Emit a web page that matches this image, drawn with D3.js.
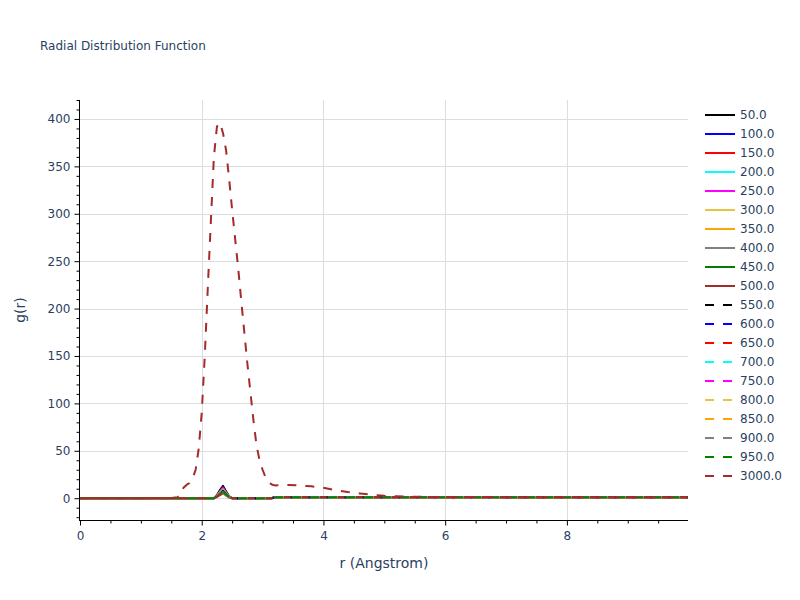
<!DOCTYPE html>
<html>
<head>
<meta charset="utf-8">
<script src="https://cdn.jsdelivr.net/npm/d3@7"></script>
<style>
  body { margin: 0; background: #fff; }
  svg { display: block; }
  text { font-family: "DejaVu Sans", Verdana, sans-serif; }
</style>
</head>
<body>
<svg id="chart" width="800" height="600"></svg>
<script>
// ---------- DATA ----------
const r = [0, 0.5, 1.0, 1.5, 1.6, 1.65, 1.7, 1.75, 1.8, 1.85, 1.9, 1.95, 2.0, 2.05, 2.1, 2.15,
  2.2, 2.25, 2.3, 2.35, 2.4, 2.45, 2.5, 2.55, 2.6, 2.65, 2.7, 2.75, 2.8, 2.85, 2.9, 2.95,
  3.0, 3.05, 3.1, 3.15, 3.2, 3.4, 3.6, 3.8, 4.0, 4.2, 4.4, 4.6, 4.8, 5.0, 5.2, 5.4, 5.6,
  6.0, 6.5, 7.0, 7.5, 8.0, 8.5, 9.0, 9.5, 9.99];

const seriesNames = ["50.0","100.0","150.0","200.0","250.0","300.0","350.0","400.0","450.0","500.0",
  "550.0","600.0","650.0","700.0","750.0","800.0","850.0","900.0","950.0","3000.0"];

const seriesColors = ["black","blue","red","cyan","magenta","#e8c440","orange","gray","green","brown",
  "black","blue","red","cyan","magenta","#e8c440","orange","gray","green","brown"];

const seriesDash = ["solid","solid","solid","solid","solid","solid","solid","solid","solid","solid",
  "dash","dash","dash","dash","dash","dash","dash","dash","dash","dash"];

const g50  = [0,0,0,0,0,0,0,0,0,0,0,0,0,0,0,0,0, 3.2,8.5,13,7.2,2.0, 0,0,0,0,0,0,0,0,0,0,0,0,0,0, 1.1,1.2,1.1,1.0,1.0,1.0,0.9,1.0,1.1,1.0,1.0,1.0,1.0,1.0,1.0,1.0,1.0,1.0,1.0,1.0,1.0,1.0];
const g100 = [0,0,0,0,0,0,0,0,0,0,0,0,0,0,0,0,0, 3.0,7.8,12,6.6,1.8, 0,0,0,0,0,0,0,0,0,0,0,0,0,0, 1.1,1.2,1.1,1.0,1.0,1.0,1.0,1.0,1.1,1.0,1.0,1.0,1.0,1.0,1.0,1.0,1.0,1.0,1.0,1.0,1.0,1.0];
const g150 = [0,0,0,0,0,0,0,0,0,0,0,0,0,0,0,0,0, 2.8,7.2,11,6.0,1.7, 0,0,0,0,0,0,0,0,0,0,0,0,0,0, 1.1,1.1,1.1,1.0,1.0,1.0,1.0,1.0,1.0,1.0,1.0,1.0,1.0,1.0,1.0,1.0,1.0,1.0,1.0,1.0,1.0,1.0];
const g200 = [0,0,0,0,0,0,0,0,0,0,0,0,0,0,0,0,0, 2.5,6.5,10,5.5,1.5, 0,0,0,0,0,0,0,0,0,0,0,0,0,0, 1.0,1.1,1.1,1.0,1.0,1.0,1.0,1.1,1.0,1.0,1.0,1.0,1.0,1.0,1.0,1.0,1.0,1.0,1.0,1.0,1.0,1.0];
const g250 = [0,0,0,0,0,0,0,0,0,0,0,0,0,0,0,0,0, 2.4,6.2,9.5,5.2,1.4, 0,0,0,0,0,0,0,0,0,0,0,0,0,0, 1.0,1.1,1.1,1.0,1.0,1.0,1.1,1.2,1.2,1.1,1.0,1.0,1.0,1.0,1.0,1.0,1.0,1.0,1.0,1.0,1.0,1.0];
const g300 = [0,0,0,0,0,0,0,0,0,0,0,0,0,0,0,0,0, 2.2,5.8,9,5.0,1.4, 0,0,0,0,0,0,0,0,0,0,0,0,0,0, 1.0,1.1,1.0,1.0,1.0,1.0,1.0,1.0,1.0,1.0,1.0,1.0,1.0,1.0,1.0,1.0,1.0,1.0,1.0,1.0,1.0,1.0];
const g350 = [0,0,0,0,0,0,0,0,0,0,0,0,0,0,0,0,0, 2.1,5.5,8.5,4.7,1.3, 0,0,0,0,0,0,0,0,0,0,0,0,0,0, 1.0,1.1,1.0,1.0,1.0,1.0,1.0,1.0,1.0,1.0,1.0,1.0,1.0,1.0,1.0,1.0,1.0,1.0,1.0,1.0,1.0,1.0];
const g400 = [0,0,0,0,0,0,0,0,0,0,0,0,0,0,0,0,0, 2.0,5.2,8,4.4,1.2, 0,0,0,0,0,0,0,0,0,0,0,0,0,0, 1.0,1.1,1.0,1.0,1.0,1.0,1.0,1.0,1.0,1.0,1.0,1.0,1.0,1.0,1.0,1.0,1.0,1.0,1.0,1.0,1.0,1.0];
const g450 = [0,0,0,0,0,0,0,0,0,0,0,0,0,0,0,0,0, 1.8,4.6,7,3.9,1.1, 0,0,0,0,0,0,0,0,0,0,0,0,0,0, 1.0,1.0,1.0,1.0,1.0,1.0,1.0,1.0,1.0,1.0,1.0,1.0,1.0,1.0,1.0,1.0,1.0,1.0,1.0,1.0,1.0,1.0];
const g500 = [0,0,0,0,0,0,0,0,0,0,0,0,0,0,0,0,0, 1.3,3.3,5,2.8,0.8, 0,0,0,0,0,0,0,0,0,0,0,0,0,0, 1.0,1.0,1.0,1.0,1.0,1.0,1.0,1.0,1.0,1.0,1.0,1.0,1.0,1.0,1.0,1.0,1.0,1.0,1.0,1.0,1.0,1.0];
const g550 = [0,0,0,0,0,0,0,0,0,0,0,0,0,0,0,0,0, 1.9,4.9,7.5,4.1,1.1, 0,0,0,0,0,0,0,0,0,0,0,0,0,0, 1.0,1.1,1.0,1.0,1.0,1.0,1.0,1.0,1.0,1.0,1.0,1.0,1.0,1.0,1.0,1.0,1.0,1.0,1.0,1.0,1.0,1.0];
const g600 = [0,0,0,0,0,0,0,0,0,0,0,0,0,0,0,0,0, 1.8,4.6,7,3.9,1.1, 0,0,0,0,0,0,0,0,0,0,0,0,0,0, 1.0,1.1,1.0,1.0,1.0,1.0,1.0,1.0,1.0,1.0,1.0,1.0,1.0,1.0,1.0,1.0,1.0,1.0,1.0,1.0,1.0,1.0];
const g650 = [0,0,0,0,0,0,0,0,0,0,0,0,0,0,0,0,0, 1.6,4.2,6.5,3.6,1.0, 0,0,0,0,0,0,0,0,0,0,0,0,0,0, 1.0,1.0,1.0,1.0,1.0,1.0,1.0,1.0,1.0,1.0,1.0,1.0,1.0,1.0,1.0,1.0,1.0,1.0,1.0,1.0,1.0,1.0];
const g700 = [0,0,0,0,0,0,0,0,0,0,0,0,0,0,0,0,0, 1.6,4.2,6.5,3.6,1.0, 0,0,0,0,0,0,0,0,0,0,0,0,0,0, 1.0,1.0,1.0,1.0,1.0,1.0,1.0,1.0,1.0,1.0,1.0,1.0,1.0,1.0,1.0,1.0,1.0,1.0,1.0,1.0,1.0,1.0];
const g750 = [0,0,0,0,0,0,0,0,0,0,0,0,0,0,0,0,0, 1.5,3.9,6,3.3,0.9, 0,0,0,0,0,0,0,0,0,0,0,0,0,0, 1.0,1.0,1.0,1.0,1.0,1.0,1.1,1.2,1.2,1.1,1.0,1.0,1.0,1.0,1.0,1.0,1.0,1.0,1.0,1.0,1.0,1.0];
const g800 = [0,0,0,0,0,0,0,0,0,0,0,0,0,0,0,0,0, 1.5,3.9,6,3.3,0.9, 0,0,0,0,0,0,0,0,0,0,0,0,0,0, 1.0,1.0,1.0,1.0,1.0,1.0,1.0,1.0,1.0,1.0,1.0,1.0,1.0,1.0,1.0,1.0,1.0,1.0,1.0,1.0,1.0,1.0];
const g850 = [0,0,0,0,0,0,0,0,0,0,0,0,0,0,0,0,0, 1.4,3.6,5.5,3.0,0.8, 0,0,0,0,0,0,0,0,0,0,0,0,0,0, 1.0,1.0,1.0,1.0,1.0,1.0,1.0,1.0,1.0,1.0,1.0,1.0,1.0,1.0,1.0,1.0,1.0,1.0,1.0,1.0,1.0,1.0];
const g900 = [0,0,0,0,0,0,0,0,0,0,0,0,0,0,0,0,0, 1.4,3.6,5.5,3.0,0.8, 0,0,0,0,0,0,0,0,0,0,0,0,0,0, 1.0,1.0,1.0,1.0,1.0,1.0,1.0,1.0,1.0,1.0,1.0,1.0,1.0,1.0,1.0,1.0,1.0,1.0,1.0,1.0,1.0,1.0];
const g950 = [0,0,0,0,0,0,0,0,0,0,0,0,0,0,0,0,0, 1.7,4.4,6.5,4.0,1.5, 0,0,0,0,0,0,0,0,0,0,0,0,0,0, 1.0,1.0,1.0,1.0,1.0,1.0,1.0,1.0,1.0,1.0,1.0,1.0,1.0,1.0,1.0,1.0,1.0,1.0,1.0,1.0,1.0,1.0];
const g3000 = [0,0,0,0.3,1,3,11,14,16,21,30,52,90,150,222,292,
  360,392,396,385,367,337,304,273,242,208,175,142,112,82,56,40,
  30,22,17,14.5,13.5,14,13.5,12.5,11,8.5,6.5,5,3.5,2.5,2,1.6,1.4,
  1.3,1.2,1.1,1.0,1.0,1.0,1.0,1.0,1.0];

const seriesValues = [g50,g100,g150,g200,g250,g300,g350,g400,g450,g500,
  g550,g600,g650,g700,g750,g800,g850,g900,g950,g3000];

const xTicks = [0, 2, 4, 6, 8];
const yTicks = [0, 50, 100, 150, 200, 250, 300, 350, 400];

// ---------- LAYOUT ----------
const svg = d3.select("#chart");
const L = 80, R = 688, T = 100, B = 520;
const textColor = "#2a3f5f";

const x = d3.scaleLinear().domain([0, 9.99]).range([L, R]);
const y = d3.scaleLinear().domain([-23, 420]).range([B, T]);

svg.append("rect").attr("width", 800).attr("height", 600).attr("fill", "#fff");

// grid
const grid = svg.append("g");
grid.selectAll("line.gy").data(yTicks).join("line")
  .attr("x1", L).attr("x2", R)
  .attr("y1", d => Math.round(y(d)) + 0.5).attr("y2", d => Math.round(y(d)) + 0.5)
  .attr("stroke", "#dddddd").attr("stroke-width", 1);
grid.selectAll("line.gx").data(xTicks.filter(d => d > 0)).join("line")
  .attr("x1", d => Math.round(x(d)) + 0.5).attr("x2", d => Math.round(x(d)) + 0.5)
  .attr("y1", T).attr("y2", B)
  .attr("stroke", "#dddddd").attr("stroke-width", 1);

// clip
svg.append("defs").append("clipPath").attr("id", "clip")
  .append("rect").attr("x", L).attr("y", T).attr("width", R - L).attr("height", B - T);

const line = d3.line().x(d => x(d[0])).y(d => y(d[1]));
const lines = svg.append("g").attr("clip-path", "url(#clip)");
seriesValues.forEach((vals, i) => {
  lines.append("path")
    .datum(r.map((rv, j) => [rv, vals[j]]))
    .attr("d", line)
    .attr("fill", "none")
    .attr("stroke", seriesColors[i])
    .attr("stroke-width", 2)
    .attr("stroke-linejoin", "round")
    .attr("stroke-dasharray", seriesDash[i] === "dash" ? "9,9" : null);
});

// axes
const yMinor = d3.range(-20, 421, 10).filter(v => v % 50 !== 0);
const xMinor = d3.range(0.5, 9.99, 0.5).filter(v => v % 2 !== 0);

const yAxisG = svg.append("g").attr("transform", `translate(${L - 0.5},0)`);
yAxisG.call(d3.axisLeft(y).tickValues(yMinor).tickSize(3).tickSizeOuter(0).tickFormat(""));
yAxisG.append("g").call(d3.axisLeft(y).tickValues(yTicks).tickSize(5).tickSizeOuter(0).tickPadding(4));
yAxisG.selectAll("path.domain").attr("stroke", "#000").attr("d", `M0,${T}V${B + 1}`);
yAxisG.selectAll(".tick line").attr("stroke", "#000");
yAxisG.selectAll("text").attr("fill", textColor).style("font-size", "12px")
  .style("font-family", "'DejaVu Sans', Verdana, sans-serif");

const xAxisG = svg.append("g").attr("transform", `translate(0,${B + 0.5})`);
xAxisG.call(d3.axisBottom(x).tickValues(xMinor).tickSize(3).tickSizeOuter(0).tickFormat(""));
xAxisG.append("g").call(d3.axisBottom(x).tickValues(xTicks).tickSize(5).tickSizeOuter(0).tickPadding(6));
xAxisG.selectAll("path.domain").attr("stroke", "#000").attr("d", `M${L - 1},0H${R}`);
xAxisG.selectAll(".tick line").attr("stroke", "#000");
xAxisG.selectAll("text").attr("fill", textColor).style("font-size", "12px")
  .style("font-family", "'DejaVu Sans', Verdana, sans-serif");

// titles
svg.append("text").attr("x", 40).attr("y", 50)
  .attr("fill", textColor).style("font-size", "12px")
  .text("Radial Distribution Function");

svg.append("text").attr("x", (L + R) / 2).attr("y", 568)
  .attr("text-anchor", "middle").attr("fill", textColor).style("font-size", "14px")
  .text("r (Angstrom)");

svg.append("text")
  .attr("transform", `translate(25,${(T + B) / 2}) rotate(-90)`)
  .attr("text-anchor", "middle").attr("fill", textColor).style("font-size", "14px")
  .text("g(r)");

// legend
const leg = svg.append("g").attr("transform", "translate(705,115)");
seriesNames.forEach((name, i) => {
  const gi = leg.append("g").attr("transform", `translate(0,${i * 19})`);
  gi.append("line").attr("x1", 0).attr("x2", 30).attr("y1", 0).attr("y2", 0)
    .attr("stroke", seriesColors[i]).attr("stroke-width", 2)
    .attr("stroke-dasharray", seriesDash[i] === "dash" ? "9,9" : null);
  gi.append("text").attr("x", 35).attr("y", 0).attr("dy", "0.36em")
    .attr("fill", textColor).style("font-size", "12px").text(name);
});
</script>
</body>
</html>
